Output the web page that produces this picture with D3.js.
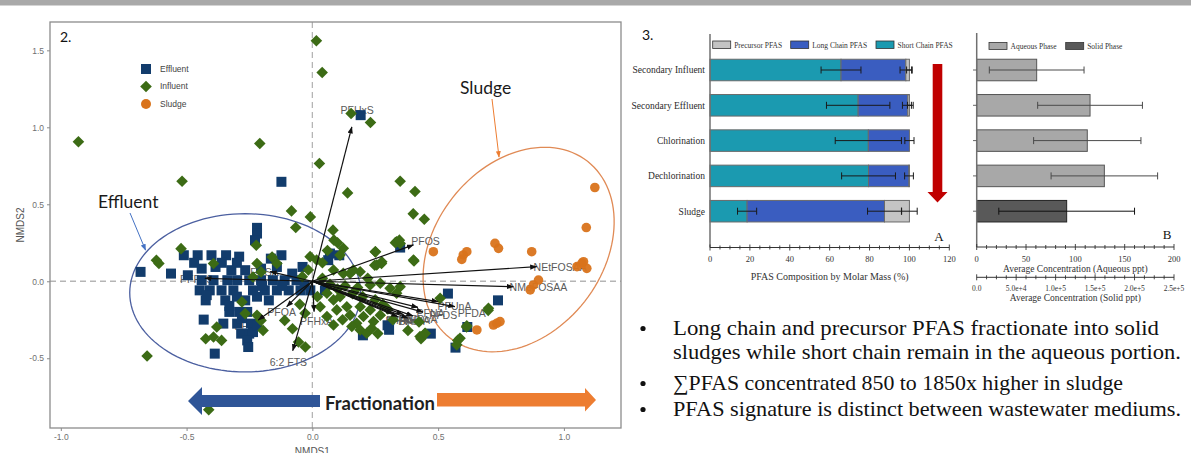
<!DOCTYPE html>
<html>
<head>
<meta charset="utf-8">
<script src="https://cdn.jsdelivr.net/npm/d3@7"></script>
<style>
  body { margin: 0; background: #fff; }
  svg { display: block; }
</style>
</head>
<body>
<svg id="fig" width="1191" height="453"></svg>
<script>
// ---------------- Data: NMDS ordination (panel 2) ----------------
const effluentPts = [
  [0.192,1.079],[-0.123,0.646],[-0.220,0.347],[-0.220,0.310],[-0.683,0.061],
  [-0.511,0.169],[-0.456,0.169],[-0.401,0.169],[-0.343,0.169],[-0.291,0.160],[-0.165,0.147],[-0.123,0.169],[-0.228,0.267],
  [-0.562,0.050],[-0.495,0.039],[-0.440,0.082],[-0.385,0.093],[-0.322,0.072],[-0.267,0.072],[-0.204,0.082],[-0.141,0.093],[-0.039,0.093],
  [-0.440,0.007],[-0.393,0.007],[-0.338,0.007],[-0.299,0.007],[-0.251,0.007],[-0.204,0.007],[-0.157,0.007],[-0.110,0.007],[-0.063,0.007],
  [-0.448,-0.059],[-0.408,-0.059],[-0.361,-0.059],[-0.314,-0.059],[-0.236,-0.059],[-0.189,-0.059],[-0.141,-0.059],[-0.094,-0.059],[-0.047,-0.059],
  [-0.424,-0.124],[-0.346,-0.124],[-0.267,-0.124],[-0.173,-0.124],
  [-0.330,-0.199],[-0.291,-0.199],[-0.259,-0.199],
  [-0.432,-0.249],
  [-0.354,-0.275],[-0.299,-0.275],[-0.244,-0.275],
  [-0.283,-0.340],[-0.251,-0.340],[-0.236,-0.330],
  [-0.259,-0.384],[-0.255,-0.427],[-0.388,-0.470],
  [0.063,0.137],[0.107,0.169],[0.070,0.180],[0.349,0.219],[0.539,-0.080],[0.738,-0.124],[0.616,-0.297],
  [0.471,-0.340],[0.299,-0.286],[0.305,-0.315],[0.201,-0.351],[0.569,-0.431],[-0.008,-0.059],[-0.031,-0.026],
  [-0.47,0.12],[-0.36,0.12],[-0.30,0.12],[-0.42,-0.09],[-0.30,-0.10],[-0.22,-0.10],[-0.12,-0.03],
  [-0.08,0.05],[-0.33,-0.16],[-0.28,-0.24],[-0.22,-0.29],[-0.20,-0.03],[0.05,-0.06]
];
const influentPts = [
  [-0.930,0.906],[0.016,1.562],[0.039,1.356],[-0.209,0.895],[0.154,1.090],[0.231,1.031],[0.028,0.765],
  [-0.518,0.650],[0.140,0.574],[0.349,0.650],[0.408,0.583],[0.401,0.438],[0.445,0.403],[-0.083,0.457],
  [-0.008,0.418],[-0.066,0.349],[0.082,0.332],[0.086,0.267],[-0.223,0.234],[-0.522,0.212],[-0.620,0.137],
  [-0.610,0.115],[-0.657,-0.485],[-0.412,-0.834],
  [0.123,0.214],[0.250,0.192],[0.276,0.127],[0.256,0.106],[0.335,0.257],[0.349,0.246],[0.402,0.138],
  [-0.009,0.160],[0.017,0.138],[-0.016,0.073],
  [0.084,0.073],[0.123,0.051],[0.150,0.051],[0.163,0.073],[0.190,0.062],
  [0.230,-0.024],[0.270,-0.013],[0.309,-0.046],[0.349,-0.035],[0.335,-0.078],
  [0.058,-0.078],[0.084,-0.121],[0.031,-0.165],[0.097,-0.186],[0.137,-0.165],[0.110,-0.100],
  [0.190,-0.165],[0.230,-0.186],[0.203,-0.229],[0.176,-0.273],[0.157,-0.294],
  [0.190,-0.316],[0.216,-0.338],[0.243,-0.262],[0.236,-0.305],
  [0.084,-0.284],[0.058,-0.229],
  [0.428,-0.359],[0.448,-0.338],[0.574,-0.413],[0.587,-0.370],[0.614,-0.290],[0.700,-0.176],[0.508,-0.110],[-0.029,-0.208],
  [-0.380,-0.297],[-0.361,-0.384],[-0.424,-0.373],[-0.393,-0.362],
  [-0.204,0.061],[-0.220,0.115],[-0.236,0.028],[-0.160,0.158],[-0.141,0.115],
  [-0.280,-0.134],[-0.267,-0.210],[-0.079,-0.308],[-0.055,-0.394],[-0.028,-0.427],[-0.110,-0.254],
  [-0.393,0.115],[-0.204,-0.254],[-0.220,-0.221],[-0.196,-0.319],
  [0.424,-0.264],[0.432,-0.373],[0.448,-0.340],[0.578,-0.384],[0.613,-0.297],[0.699,-0.189],
  [0.330,0.251],[0.346,0.267],[0.404,0.132],[0.251,0.191],[0.275,0.115],[0.248,0.104],
  [0.040,0.020],[0.070,-0.020],[0.100,-0.050],[0.130,-0.030],[0.160,-0.080],[0.200,-0.100],[0.250,-0.120],
  [0.280,-0.150],[0.060,0.200],[0.110,0.170],[0.020,-0.100],[0.150,-0.220],[0.120,-0.250],[0.270,-0.220],
  [0.300,-0.180],[0.180,-0.040],[0.220,0.020],[0.040,0.120],[0.100,0.250],[0.320,-0.250],[0.380,-0.320],
  [0.260,-0.340],[-0.050,-0.150],[-0.040,0.030]
];
const sludgePts = [
  [1.123,0.609],[1.089,0.349],[0.481,0.192],[0.600,0.171],[0.614,0.192],[0.594,0.142],[0.726,0.246],
  [0.740,0.214],[0.872,0.192],[1.052,0.095],[1.072,0.117],[1.091,0.084],[1.078,0.127],[0.899,0.008],
  [0.879,-0.024],[0.866,-0.056],[0.654,-0.316],[0.720,-0.284],[0.733,-0.273],[0.746,-0.262]
];
// Fitted PFAS vectors: names, arrow tips and label anchors (NMDS units)
const vectorNames = ["PFHxS","PFOS","NEtFOSAA","NMeFOSAA","PFDA","PFUnA","PFDS","PFNA","PFHpA","PFDoA","PFHpS","PFPeA","PFBA","PFOA","PFHxA","PFBS","6:2 FTS","PFPeS","FOSA"];
const vectorTipX = [0.157,0.402,0.892,0.799,0.567,0.500,0.440,0.420,0.380,0.400,0.340,0.360,0.320,-0.102,0.007,-0.215,-0.078,-0.427,-0.168];
const vectorTipY = [1.003,0.236,0.095,-0.035,-0.165,-0.132,-0.200,-0.170,-0.240,-0.225,-0.230,-0.215,-0.210,-0.165,-0.197,-0.251,-0.451,0.019,0.063];
const vectorLabX = [0.178,0.450,0.985,0.899,0.634,0.565,0.520,0.470,0.400,0.430,0.360,0.380,0.345,-0.122,0.017,-0.255,-0.095,-0.460,-0.190];
const vectorLabY = [1.110,0.257,0.090,-0.040,-0.208,-0.160,-0.220,-0.210,-0.255,-0.250,-0.255,-0.262,-0.262,-0.204,-0.262,-0.295,-0.529,0.010,0.060];
// 95% ellipses: [cx, cy, ux, uy, vx, vy] (centre and two semi-axis vectors)
const effluentEllipse = [-0.267,-0.075, 0.459,0.000, 0.000,0.514];
const sludgeEllipse   = [ 0.820, 0.206, 0.274,0.573, 0.263,-0.336];
const nmdsTicks = [-1.0,-0.5,0.0,0.5,1.0];
const nmdsTickLabels = ["-1.0","-0.5","0.0","0.5","1.0"];
const nmdsTicksY = [-0.5,0.0,0.5,1.0,1.5];
const nmdsTickLabelsY = ["-0.5","0.0","0.5","1.0","1.5"];
const groupNames = ["Effluent","Influent","Sludge"];

// ---------------- Data: PFAS composition (panel 3A) ----------------
const stageNames = ["Secondary Influent","Secondary Effluent","Chlorination","Dechlorination","Sludge"];
const shortChain    = [65.7,74.3,79.4,79.5,18.6];
const shortChainErr = [10.0,15.9,16.6,13.5,4.8];
const longChain     = [32.5,24.9,20.6,20.3,68.9];
const longChainErr  = [2.9,2.7,2.3,2.2,8.5];
const precursor     = [1.8,0.8,0.0,0.2,12.5];
const precursorErr  = [1.4,1.0,0.0,0.0,3.9];
const compTicks = [0,20,40,60,80,100,120];
const compLegend = ["Precursor PFAS","Long Chain PFAS","Short Chain PFAS"];

// ---------------- Data: average concentration (panel 3B) ----------------
const aqueousConc = [60.8,114.9,112.1,129.4];     // ppt, first four stages
const aqueousErr  = [48.0,53.1,54.4,54.0];
const solidConc   = [1.14e5];                      // ppt, sludge
const solidErr    = [8.6e4];
const aqTicks = [0,50,100,150,200];
const solidTicks = [0,5e4,1e5,1.5e5,2e5,2.5e5];
const solidTickLabels = ["0.0","5.0e+4","1.0e+5","1.5e+5","2.0e+5","2.5e+5"];
const concLegend = ["Aqueous Phase","Solid Phase"];

// ---------------- Summary bullets ----------------
const bulletLines = [
  "Long chain and precursor PFAS fractionate into solid",
  "sludges while short chain remain in the aqueous portion.",
  "\u2211PFAS concentrated 850 to 1850x higher in sludge",
  "PFAS signature is distinct between wastewater mediums."
];
const bulletFlags = [true,false,true,true];

// =====================================================================
const svg = d3.select("#fig");
const defs = svg.append("defs");
const SANS = "'Liberation Sans', Arial, sans-serif";
const SERIF = "'Liberation Serif', 'Times New Roman', serif";
const TITLE = "Lato, 'Open Sans', sans-serif";

// slide header strip
svg.append("rect").attr("x",0).attr("y",0).attr("width",1191).attr("height",5.5).attr("fill","#a9a9a9");

// ---------------- Panel 2 ----------------
const P = {l:50, r:621, t:22, b:428};
const x2 = d3.scaleLinear().domain([-1.043, 1.227]).range([P.l, P.r]);
const y2 = d3.scaleLinear().domain([-0.953, 1.684]).range([P.b, P.t]);

defs.append("clipPath").attr("id","clip2").append("rect")
  .attr("x",P.l).attr("y",P.t).attr("width",P.r-P.l).attr("height",P.b-P.t);

const g2 = svg.append("g");
const plot = g2.append("g").attr("clip-path","url(#clip2)");

// zero reference lines
plot.append("line").attr("x1",x2(0)).attr("x2",x2(0)).attr("y1",P.t).attr("y2",P.b)
  .attr("stroke","#b5b5b5").attr("stroke-width",1.3).attr("stroke-dasharray","6,4");
plot.append("line").attr("x1",P.l).attr("x2",P.r).attr("y1",y2(0)).attr("y2",y2(0))
  .attr("stroke","#b5b5b5").attr("stroke-width",1.3).attr("stroke-dasharray","6,4");

// axes
const ax2 = g2.append("g").attr("transform",`translate(0,${P.b})`)
  .call(d3.axisBottom(x2).tickValues(nmdsTicks).tickSize(3).tickPadding(3)
    .tickFormat((d,i)=>nmdsTickLabels[i]));
const ay2 = g2.append("g").attr("transform",`translate(${P.l},0)`)
  .call(d3.axisLeft(y2).tickValues(nmdsTicksY).tickSize(3).tickPadding(3)
    .tickFormat((d,i)=>nmdsTickLabelsY[i]));
[ax2, ay2].forEach(a => {
  a.select(".domain").remove();
  a.selectAll(".tick line").attr("stroke","#8a8a8a");
  a.selectAll(".tick text").attr("fill","#707070").style("font-family",SANS).style("font-size","8.5px");
});
g2.append("text").attr("x",x2(0)).attr("y",454.5).attr("text-anchor","middle")
  .attr("fill","#555").style("font-family",SANS).style("font-size","10px").text("NMDS1");
g2.append("text").attr("transform",`translate(24,${(P.t+P.b)/2}) rotate(-90)`).attr("text-anchor","middle")
  .attr("fill","#555").style("font-family",SANS).style("font-size","10px").text("NMDS2");

// ellipses
function ellipsePath(e){
  const pts = d3.range(0, 361, 3).map(a => {
    const t = a*Math.PI/180;
    return [x2(e[0] + e[2]*Math.cos(t) + e[4]*Math.sin(t)), y2(e[1] + e[3]*Math.cos(t) + e[5]*Math.sin(t))];
  });
  return d3.line()(pts);
}
plot.append("path").attr("d",ellipsePath(effluentEllipse)).attr("fill","none")
  .attr("stroke","#4b5fa0").attr("stroke-width",1.3);
plot.append("path").attr("d",ellipsePath(sludgeEllipse)).attr("fill","none")
  .attr("stroke","#e08a55").attr("stroke-width",1.3);

// vector labels (sit beneath the points)
plot.selectAll("text.vlab").data(vectorNames).join("text").attr("class","vlab")
  .attr("x",(d,i)=>x2(vectorLabX[i])).attr("y",(d,i)=>y2(vectorLabY[i]))
  .attr("dy","0.35em").attr("text-anchor","middle")
  .attr("fill","#5a5a5a").style("font-family",SANS).style("font-size","10.5px").text(d=>d);

// points
const COL_EFF = "#123c6c", COL_INF = "#3c6b15", COL_SLU = "#d9731b";
const sq = 10;
plot.selectAll("rect.eff").data(effluentPts).join("rect").attr("class","eff")
  .attr("x",d=>x2(d[0])-sq/2).attr("y",d=>y2(d[1])-sq/2).attr("width",sq).attr("height",sq)
  .attr("fill",COL_EFF);
const dia = 5.8;
plot.selectAll("path.inf").data(influentPts).join("path").attr("class","inf")
  .attr("d",d=>{const cx=x2(d[0]), cy=y2(d[1]); return `M${cx},${cy-dia}L${cx+dia},${cy}L${cx},${cy+dia}L${cx-dia},${cy}Z`;})
  .attr("fill",COL_INF);
plot.selectAll("circle.slu").data(sludgePts).join("circle").attr("class","slu")
  .attr("cx",d=>x2(d[0])).attr("cy",d=>y2(d[1])).attr("r",4.8)
  .attr("fill",COL_SLU).attr("fill-opacity",0.95);

// vectors
defs.append("marker").attr("id","vhead").attr("viewBox","0 0 8 6").attr("refX",7.5).attr("refY",3)
  .attr("markerWidth",7).attr("markerHeight",5.5).attr("markerUnits","userSpaceOnUse").attr("orient","auto")
  .append("path").attr("d","M0,0L8,3L0,6Z").attr("fill","#111");
plot.selectAll("line.vec").data(vectorNames).join("line").attr("class","vec")
  .attr("x1",x2(0)).attr("y1",y2(0))
  .attr("x2",(d,i)=>x2(vectorTipX[i])).attr("y2",(d,i)=>y2(vectorTipY[i]))
  .attr("stroke","#111").attr("stroke-width",1.2).attr("marker-end","url(#vhead)");

// panel border
g2.append("rect").attr("x",P.l).attr("y",P.t).attr("width",P.r-P.l).attr("height",P.b-P.t)
  .attr("fill","none").attr("stroke","#8c8c8c").attr("stroke-width",1.3);

// legend
const legY = [69,86.5,104];
const legCol = [COL_EFF, COL_INF, COL_SLU];
groupNames.forEach((name,i)=>{
  const cx = 146, cy = legY[i];
  if (i===0) g2.append("rect").attr("x",cx-5).attr("y",cy-5).attr("width",10).attr("height",10).attr("fill",legCol[i]);
  if (i===1) g2.append("path").attr("d",`M${cx},${cy-5.8}L${cx+5.8},${cy}L${cx},${cy+5.8}L${cx-5.8},${cy}Z`).attr("fill",legCol[i]);
  if (i===2) g2.append("circle").attr("cx",cx).attr("cy",cy).attr("r",5).attr("fill",legCol[i]);
  g2.append("text").attr("x",160).attr("y",cy).attr("dy","0.35em").attr("fill","#444")
    .style("font-family",SANS).style("font-size","8.5px").text(name);
});

// panel tag and call-outs
svg.append("text").attr("x",60).attr("y",42).style("font-family",TITLE).style("font-size","14px").attr("fill","#111").text("2.");
defs.append("marker").attr("id","bluehead").attr("viewBox","0 0 8 6").attr("refX",7).attr("refY",3)
  .attr("markerWidth",7).attr("markerHeight",5).attr("markerUnits","userSpaceOnUse").attr("orient","auto")
  .append("path").attr("d","M0,0L8,3L0,6Z").attr("fill","#4472c4");
defs.append("marker").attr("id","orangehead").attr("viewBox","0 0 8 6").attr("refX",7).attr("refY",3)
  .attr("markerWidth",7).attr("markerHeight",5).attr("markerUnits","userSpaceOnUse").attr("orient","auto")
  .append("path").attr("d","M0,0L8,3L0,6Z").attr("fill","#ed7d31");
svg.append("text").attr("x",98).attr("y",208).style("font-family",TITLE).style("font-size","17.5px").attr("fill","#1a1a1a").text("Effluent");
svg.append("line").attr("x1",130).attr("y1",213).attr("x2",145.5).attr("y2",250)
  .attr("stroke","#4472c4").attr("stroke-width",1).attr("marker-end","url(#bluehead)");
svg.append("text").attr("x",460).attr("y",94).style("font-family",TITLE).style("font-size","17.5px").attr("fill","#1a1a1a").text("Sludge");
svg.append("line").attr("x1",492).attr("y1",99).attr("x2",499).attr("y2",157)
  .attr("stroke","#ed7d31").attr("stroke-width",1).attr("marker-end","url(#orangehead)");

// fractionation arrows
svg.append("path").attr("d","M188,401L202,387L202,395L320,395L320,407L202,407L202,415Z").attr("fill","#2f5597");
svg.append("path").attr("d","M437,393L585,393L585,388L596,400L585,411.5L585,406.5L437,406.5Z").attr("fill","#ed7d31");
svg.append("text").attr("x",325).attr("y",410).style("font-family",TITLE).style("font-weight","bold")
  .style("font-size","18.5px").attr("fill","#1f1f1f").text("Fractionation");

// ---------------- Panel 3A ----------------
svg.append("text").attr("x",642).attr("y",40).style("font-family",TITLE).style("font-size","14px").attr("fill","#111").text("3.");
const xA = d3.scaleLinear().domain([0,120]).range([710,949.3]);
const yA = d3.scaleBand().domain(stageNames).range([52.35,228.85]).paddingInner(0.39).paddingOuter(0.195);
const COL_SHORT = "#1b9ab0", COL_LONG = "#3a5dc0", COL_PREC = "#c4c4c4";
const gA = svg.append("g");
stageNames.forEach((s,i)=>{
  const y = yA(s), h = yA.bandwidth();
  const segs = [[0, shortChain[i], COL_SHORT],
                [shortChain[i], shortChain[i]+longChain[i], COL_LONG],
                [shortChain[i]+longChain[i], shortChain[i]+longChain[i]+precursor[i], COL_PREC]];
  segs.forEach(sg=>{
    if (sg[1]-sg[0] <= 0) return;
    gA.append("rect").attr("x",xA(sg[0])).attr("y",y).attr("width",xA(sg[1])-xA(sg[0])).attr("height",h)
      .attr("fill",sg[2]).attr("stroke","#6a6a6a").attr("stroke-width",1);
  });
  const errs = [[shortChain[i], shortChainErr[i]],
                [shortChain[i]+longChain[i], longChainErr[i]],
                [shortChain[i]+longChain[i]+precursor[i], precursorErr[i]]];
  const cy = y + h/2;
  errs.forEach(e=>{
    if (e[1] <= 0) return;
    const a = xA(e[0]-e[1]), b = xA(e[0]+e[1]);
    gA.append("line").attr("x1",a).attr("x2",b).attr("y1",cy).attr("y2",cy).attr("stroke","#1a1a1a").attr("stroke-width",1);
    [a,b].forEach(xx=>gA.append("line").attr("x1",xx).attr("x2",xx).attr("y1",cy-3.5).attr("y2",cy+3.5)
      .attr("stroke","#1a1a1a").attr("stroke-width",1));
  });
  gA.append("text").attr("x",705).attr("y",cy).attr("dy","0.35em").attr("text-anchor","end")
    .attr("fill","#2a2a2a").style("font-family",SERIF).style("font-size","9.5px").text(s);
});
// axes A
const axisYA = 247.5;
gA.append("line").attr("x1",710).attr("x2",710).attr("y1",34).attr("y2",axisYA).attr("stroke","#707070").attr("stroke-width",1.5);
gA.append("line").attr("x1",xA(0)).attr("x2",xA(120)).attr("y1",axisYA).attr("y2",axisYA).attr("stroke","#333").attr("stroke-width",1);
d3.range(0,121,5).forEach(v=>{
  const major = v % 20 === 0;
  gA.append("line").attr("x1",xA(v)).attr("x2",xA(v)).attr("y1",axisYA-(major?3:2)).attr("y2",axisYA+(major?3:2))
    .attr("stroke","#333").attr("stroke-width",0.9);
});
gA.selectAll("text.tA").data(compTicks).join("text").attr("class","tA")
  .attr("x",d=>xA(d)).attr("y",262).attr("text-anchor","middle").attr("fill","#333")
  .style("font-family",SERIF).style("font-size","8.5px").text(d=>d);
gA.append("text").attr("x",(xA(0)+xA(120))/2).attr("y",279.5).attr("text-anchor","middle").attr("fill","#333")
  .style("font-family",SERIF).style("font-size","10px").text("PFAS Composition by Molar Mass (%)");
gA.append("text").attr("x",939).attr("y",241).attr("text-anchor","middle").attr("fill","#111")
  .style("font-family",SERIF).style("font-size","13px").text("A");
// legend A
const legAx = [712.7, 790.7, 876];
const legAcol = [COL_PREC, COL_LONG, COL_SHORT];
compLegend.forEach((t,i)=>{
  gA.append("rect").attr("x",legAx[i]).attr("y",41).attr("width",18).attr("height",7.5)
    .attr("fill",legAcol[i]).attr("stroke","#333").attr("stroke-width",0.8);
  gA.append("text").attr("x",legAx[i]+21.5).attr("y",47.8).attr("fill","#333")
    .style("font-family",SERIF).style("font-size","7.5px").text(t);
});
// downward red arrow
gA.append("path").attr("d","M932.7,64L942.3,64L942.3,192L947.5,192L937.5,202.5L927.5,192L932.7,192Z").attr("fill","#c00000");

// ---------------- Panel 3B ----------------
const xB = d3.scaleLinear().domain([0,200]).range([976.7,1174]);
const xS = d3.scaleLinear().domain([0,2.5e5]).range([976.7,1174]);
const gB = svg.append("g");
const COL_AQ = "#a8a8a8", COL_SOL = "#595959";
function errBar(g, x0, x1, cy, col){
  g.append("line").attr("x1",x0).attr("x2",x1).attr("y1",cy).attr("y2",cy).attr("stroke",col).attr("stroke-width",1);
  [x0,x1].forEach(xx=>g.append("line").attr("x1",xx).attr("x2",xx).attr("y1",cy-3.5).attr("y2",cy+3.5)
    .attr("stroke",col).attr("stroke-width",1));
}
aqueousConc.forEach((v,i)=>{
  const s = stageNames[i], y = yA(s), h = yA.bandwidth();
  gB.append("rect").attr("x",xB(0)).attr("y",y).attr("width",xB(v)-xB(0)).attr("height",h)
    .attr("fill",COL_AQ).attr("stroke","#555").attr("stroke-width",1);
  errBar(gB, xB(v-aqueousErr[i]), xB(v+aqueousErr[i]), y+h/2, "#4a4a4a");
});
solidConc.forEach((v,i)=>{
  const s = stageNames[4+i], y = yA(s), h = yA.bandwidth();
  gB.append("rect").attr("x",xS(0)).attr("y",y).attr("width",xS(v)-xS(0)).attr("height",h)
    .attr("fill",COL_SOL).attr("stroke","#222").attr("stroke-width",1);
  errBar(gB, xS(v-solidErr[i]), xS(v+solidErr[i]), y+h/2, "#111");
});
// axes B
const axisYB = 247, axisYS = 277.3;
gB.append("line").attr("x1",976.7).attr("x2",976.7).attr("y1",33).attr("y2",axisYB).attr("stroke","#707070").attr("stroke-width",1.5);
stageNames.forEach(s=>{
  const cy = yA(s)+yA.bandwidth()/2;
  gB.append("line").attr("x1",973).attr("x2",976.7).attr("y1",cy).attr("y2",cy).attr("stroke","#555").attr("stroke-width",0.9);
});
gB.append("line").attr("x1",xB(0)).attr("x2",xB(200)).attr("y1",axisYB).attr("y2",axisYB).attr("stroke","#333").attr("stroke-width",1);
d3.range(0,201,10).forEach(v=>{
  const major = v % 50 === 0;
  gB.append("line").attr("x1",xB(v)).attr("x2",xB(v)).attr("y1",axisYB-(major?3:2)).attr("y2",axisYB+(major?3:2))
    .attr("stroke","#333").attr("stroke-width",0.9);
});
gB.selectAll("text.tB").data(aqTicks).join("text").attr("class","tB")
  .attr("x",d=>xB(d)).attr("y",262).attr("text-anchor","middle").attr("fill","#333")
  .style("font-family",SERIF).style("font-size","8.5px").text(d=>d);
gB.append("text").attr("x",(xB(0)+xB(200))/2).attr("y",271.5).attr("text-anchor","middle").attr("fill","#333")
  .style("font-family",SERIF).style("font-size","9.5px").text("Average Concentration (Aqueous ppt)");
gB.append("line").attr("x1",xS(0)).attr("x2",xS(2.5e5)).attr("y1",axisYS).attr("y2",axisYS).attr("stroke","#333").attr("stroke-width",1);
d3.range(0,2.5e5+1,1.25e4).forEach(v=>{
  const major = Math.abs(v % 5e4) < 1;
  gB.append("line").attr("x1",xS(v)).attr("x2",xS(v)).attr("y1",axisYS-(major?3:2)).attr("y2",axisYS+(major?3:2))
    .attr("stroke","#333").attr("stroke-width",0.9);
});
gB.selectAll("text.tS").data(solidTicks).join("text").attr("class","tS")
  .attr("x",d=>xS(d)).attr("y",290.5).attr("text-anchor","middle").attr("fill","#333")
  .style("font-family",SERIF).style("font-size","7.5px").text((d,i)=>solidTickLabels[i]);
gB.append("text").attr("x",(xS(0)+xS(2.5e5))/2).attr("y",301).attr("text-anchor","middle").attr("fill","#333")
  .style("font-family",SERIF).style("font-size","9.5px").text("Average Concentration (Solid ppt)");
gB.append("text").attr("x",1167).attr("y",239).attr("text-anchor","middle").attr("fill","#111")
  .style("font-family",SERIF).style("font-size","13px").text("B");
// legend B
const legBx = [989, 1065.7];
const legBcol = [COL_AQ, COL_SOL];
concLegend.forEach((t,i)=>{
  gB.append("rect").attr("x",legBx[i]).attr("y",42.5).attr("width",18).attr("height",7)
    .attr("fill",legBcol[i]).attr("stroke","#333").attr("stroke-width",0.8);
  gB.append("text").attr("x",legBx[i]+21.5).attr("y",49).attr("fill","#333")
    .style("font-family",SERIF).style("font-size","7.5px").text(t);
});

// ---------------- Bullets ----------------
const bulletBase = [335, 358.5, 390, 416];
const bulletWidth = [486, 508, 450, 508];
bulletLines.forEach((t,i)=>{
  if (bulletFlags[i]) svg.append("circle").attr("cx",643).attr("cy",bulletBase[i]-6.5).attr("r",2.6).attr("fill","#111");
  svg.append("text").attr("x",673).attr("y",bulletBase[i]).attr("fill","#111")
    .attr("textLength",bulletWidth[i]).attr("lengthAdjust","spacingAndGlyphs")
    .style("font-family",SERIF).style("font-size","21.5px").text(t);
});
</script>
</body>
</html>
